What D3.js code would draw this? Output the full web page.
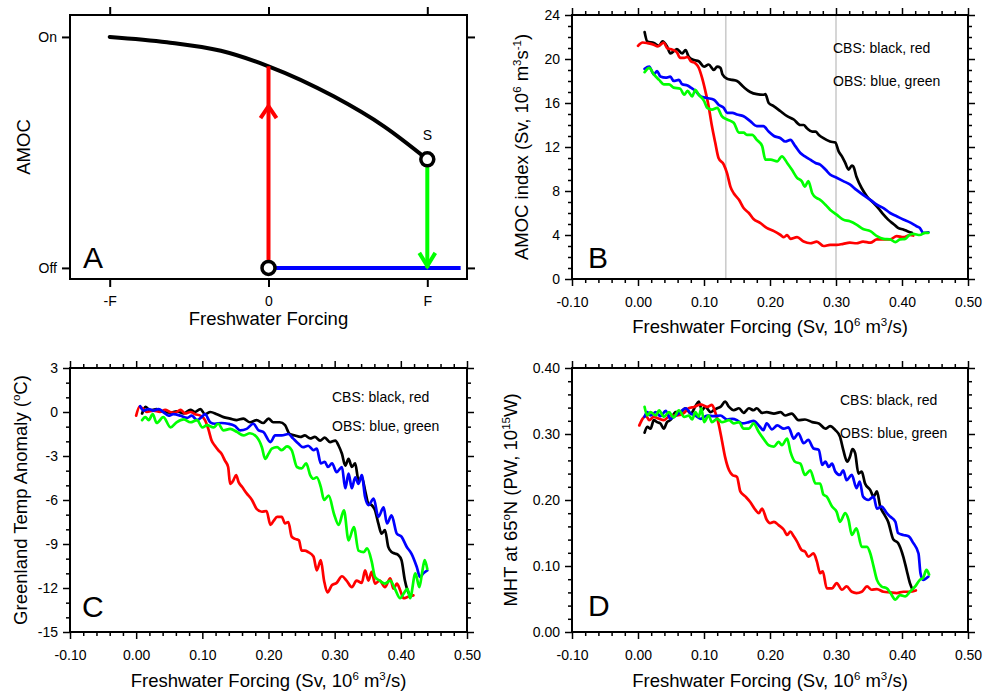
<!DOCTYPE html>
<html>
<head>
<meta charset="utf-8">
<script src="https://cdn.jsdelivr.net/npm/d3@7"></script>
<style>
  body { margin: 0; background: #fff; }
  svg { display: block; font-family: "Liberation Sans", Arial, Helvetica, sans-serif; }
</style>
</head>
<body>
<div id="chart"></div>
<script>
// ---------- data ----------
// panel A (schematic, units of F and On/Off)
const aXTicks = [-1, 0, 1];
const aXLabels = ["-F", "0", "F"];
const aYTicks = [0, 1];
const aYLabels = ["Off", "On"];
const aCurve = [[-1, 1], [-0.64, 0.977], [-0.3, 0.94], [0, 0.873], [0.41, 0.743], [0.727, 0.613], [1, 0.47]];
const aRed = [[0, 0], [0, 0.873]];
const aGreen = [[1, 0.47], [1, 0]];
const aBlue = [[0, 0], [1.21, 0]];
const aCircles = [[0, 0], [1, 0.47]];

// shared x ticks for B-D
const xMajor = [-0.1, 0, 0.1, 0.2, 0.3, 0.4, 0.5];

// panel B: AMOC index
const bTicks = [0, 4, 8, 12, 16, 20, 24];
const bGrey = [0.133, 0.30];
const bBlack = [[0.010,22.45],[0.014,21.6],[0.024,21.45],[0.032,21.2],[0.037,21.6],[0.044,21.15],[0.049,20.5],[0.059,20.9],[0.067,20.5],[0.072,20.8],[0.077,20.2],[0.085,19.9],[0.092,19.8],[0.100,19.3],[0.107,19.5],[0.115,19.0],[0.120,19.3],[0.125,19.2],[0.128,18.6],[0.135,18.2],[0.143,18.1],[0.150,18.0],[0.160,17.45],[0.170,17.0],[0.180,16.8],[0.190,16.75],[0.193,16.8],[0.198,16.0],[0.206,15.7],[0.216,15.25],[0.226,14.8],[0.236,14.5],[0.246,14.0],[0.251,14.0],[0.256,13.7],[0.264,13.4],[0.269,13.4],[0.274,13.1],[0.281,12.8],[0.291,12.5],[0.299,12.4],[0.304,11.6],[0.309,11.15],[0.314,10.55],[0.319,9.95],[0.324,10.3],[0.326,10.25],[0.331,9.3],[0.339,8.25],[0.347,7.5],[0.357,6.9],[0.364,6.45],[0.372,5.85],[0.379,5.4],[0.387,5.0],[0.394,4.65],[0.402,4.5],[0.410,4.3],[0.415,4.2]];
const bRed = [[0.000,21.2],[0.007,21.5],[0.014,21.45],[0.024,21.3],[0.029,21.15],[0.034,21.3],[0.039,21.5],[0.044,21.0],[0.052,20.85],[0.059,20.6],[0.064,20.1],[0.070,20.1],[0.075,20.2],[0.080,19.8],[0.087,19.6],[0.092,19.2],[0.097,18.3],[0.102,17.1],[0.107,15.7],[0.112,13.9],[0.117,12.4],[0.122,11.0],[0.130,10.4],[0.135,9.6],[0.140,8.4],[0.145,7.8],[0.153,7.2],[0.160,6.45],[0.168,6.0],[0.175,5.45],[0.185,5.1],[0.195,4.65],[0.206,4.35],[0.216,4.0],[0.221,3.8],[0.226,4.0],[0.231,3.65],[0.241,3.8],[0.251,3.4],[0.261,3.25],[0.271,3.4],[0.281,3.0],[0.291,3.1],[0.301,3.1],[0.311,3.2],[0.321,3.3],[0.331,3.25],[0.341,3.4],[0.352,3.3],[0.362,3.6],[0.372,3.6],[0.382,3.6],[0.392,3.9],[0.402,3.8],[0.412,4.0],[0.417,3.95]];
const bBlue = [[0.010,19.1],[0.017,19.3],[0.024,18.6],[0.029,18.9],[0.034,18.4],[0.042,18.3],[0.049,18.4],[0.054,18.0],[0.062,18.1],[0.067,17.7],[0.075,17.6],[0.080,17.4],[0.087,17.1],[0.095,16.6],[0.105,16.45],[0.115,16.3],[0.122,15.85],[0.130,15.55],[0.135,15.1],[0.143,15.1],[0.150,14.95],[0.160,14.8],[0.170,14.35],[0.180,13.9],[0.190,13.9],[0.198,13.4],[0.206,13.0],[0.216,12.8],[0.223,12.5],[0.231,12.65],[0.238,12.1],[0.246,11.45],[0.253,11.15],[0.261,10.85],[0.269,10.55],[0.276,10.4],[0.284,9.95],[0.291,9.5],[0.301,9.2],[0.311,8.9],[0.321,8.6],[0.331,8.1],[0.341,7.65],[0.352,7.2],[0.362,6.75],[0.372,6.45],[0.382,6.0],[0.392,5.7],[0.402,5.4],[0.412,5.15],[0.422,4.8],[0.427,4.65],[0.432,4.2],[0.440,4.25]];
const bGreen = [[0.010,18.8],[0.017,19.2],[0.024,18.6],[0.032,18.1],[0.039,17.7],[0.047,17.7],[0.054,17.4],[0.064,17.3],[0.070,16.75],[0.075,17.1],[0.082,16.6],[0.087,17.2],[0.092,16.75],[0.100,16.2],[0.105,15.55],[0.112,15.4],[0.120,15.55],[0.127,14.8],[0.135,14.5],[0.145,14.2],[0.153,13.3],[0.160,13.3],[0.165,13.1],[0.173,13.1],[0.180,12.65],[0.188,12.1],[0.193,10.85],[0.201,10.85],[0.211,10.7],[0.218,11.15],[0.226,10.55],[0.233,9.95],[0.241,9.2],[0.248,8.9],[0.253,8.4],[0.258,8.9],[0.264,7.8],[0.271,7.35],[0.276,7.2],[0.284,6.75],[0.291,6.3],[0.301,5.85],[0.311,5.4],[0.321,5.25],[0.331,4.95],[0.341,4.55],[0.352,4.35],[0.362,3.9],[0.372,3.65],[0.382,3.6],[0.390,3.35],[0.397,3.6],[0.405,3.65],[0.410,3.95],[0.417,4.1],[0.427,4.0],[0.435,4.2],[0.440,4.2]];

// panel C: Greenland temperature anomaly
const cTicks = [-15, -12, -9, -6, -3, 0, 3];
const cBlack = [[0.009,-0.1],[0.014,0.35],[0.021,0.1],[0.031,0.2],[0.041,0],[0.052,-0.05],[0.061,0.05],[0.072,-0.1],[0.082,0.15],[0.089,0],[0.097,0.2],[0.104,-0.15],[0.112,0],[0.122,-0.15],[0.132,-0.35],[0.142,-0.45],[0.152,-0.55],[0.162,-0.45],[0.172,-0.7],[0.182,-0.55],[0.192,-0.75],[0.200,-0.45],[0.207,-0.7],[0.217,-0.7],[0.225,-0.9],[0.232,-1.5],[0.240,-1.6],[0.248,-1.7],[0.255,-1.6],[0.263,-1.8],[0.270,-1.7],[0.278,-1.95],[0.285,-1.75],[0.293,-2.05],[0.301,-1.95],[0.306,-2.3],[0.311,-2.85],[0.316,-3.65],[0.321,-3.2],[0.326,-3.75],[0.331,-3.5],[0.336,-4.65],[0.341,-4.45],[0.346,-5.35],[0.351,-6.25],[0.356,-6.35],[0.361,-6.7],[0.366,-7.6],[0.371,-8.3],[0.376,-8.05],[0.381,-9.2],[0.386,-9.55],[0.391,-9.65],[0.396,-9.75],[0.401,-10.1],[0.406,-11.45],[0.410,-12.15],[0.414,-12.5]];
const cRed = [[0.000,-0.25],[0.005,0.35],[0.010,0.25],[0.016,0],[0.026,0.1],[0.036,0],[0.044,0.15],[0.051,0],[0.059,-0.05],[0.067,0.15],[0.074,-0.1],[0.082,0],[0.089,-0.15],[0.097,-0.25],[0.104,-0.55],[0.109,-1.15],[0.114,-1.95],[0.119,-2.3],[0.124,-2.6],[0.129,-2.85],[0.134,-3.3],[0.139,-3.75],[0.142,-4.9],[0.147,-4.65],[0.151,-4.3],[0.155,-4.8],[0.160,-5.1],[0.167,-5.55],[0.175,-6.0],[0.182,-6.6],[0.190,-6.8],[0.197,-6.75],[0.203,-7.7],[0.208,-7.4],[0.213,-7.15],[0.220,-7.15],[0.225,-7.6],[0.230,-7.5],[0.235,-8.5],[0.240,-8.65],[0.246,-8.75],[0.250,-9.45],[0.255,-9.45],[0.260,-9.55],[0.268,-9.85],[0.273,-10.8],[0.279,-10.1],[0.284,-11.5],[0.289,-12.3],[0.296,-11.8],[0.303,-11.65],[0.311,-11.2],[0.318,-11.5],[0.326,-11.95],[0.333,-11.5],[0.341,-11.65],[0.346,-10.8],[0.351,-11.5],[0.356,-10.9],[0.361,-11.7],[0.368,-11.5],[0.376,-11.95],[0.384,-11.35],[0.389,-12.05],[0.394,-11.7],[0.399,-12.15],[0.404,-12.7],[0.411,-12.6],[0.419,-12.5]];
const cBlue = [[0.006,0.4],[0.011,0.1],[0.019,0.2],[0.026,0.1],[0.034,0.2],[0.041,0],[0.049,-0.25],[0.056,-0.15],[0.067,-0.25],[0.077,-0.4],[0.084,-0.25],[0.092,-0.55],[0.100,-0.3],[0.104,-0.15],[0.112,-0.7],[0.119,-0.8],[0.129,-0.75],[0.139,-0.8],[0.149,-0.95],[0.157,-1.25],[0.167,-1.15],[0.177,-0.8],[0.185,-1.25],[0.192,-1.35],[0.203,-2.05],[0.210,-1.6],[0.220,-1.6],[0.230,-1.5],[0.237,-1.8],[0.245,-2.15],[0.252,-2.4],[0.260,-2.3],[0.268,-2.6],[0.273,-2.5],[0.279,-3.5],[0.285,-3.4],[0.290,-3.75],[0.296,-3.5],[0.303,-4.1],[0.311,-3.75],[0.316,-5.2],[0.321,-4.2],[0.326,-5.2],[0.331,-4.45],[0.336,-4.9],[0.341,-4.3],[0.346,-5.8],[0.351,-6.35],[0.359,-5.9],[0.366,-7.15],[0.374,-6.5],[0.379,-7.6],[0.386,-7.05],[0.394,-8.3],[0.401,-8.5],[0.409,-9.2],[0.416,-9.65],[0.424,-10.55],[0.429,-11.25],[0.434,-11.0],[0.440,-10.8]];
const cGreen = [[0.009,-0.55],[0.014,-0.35],[0.019,-0.55],[0.025,-0.15],[0.031,-0.75],[0.041,-0.35],[0.052,-1.05],[0.061,-0.7],[0.072,-0.5],[0.082,-0.7],[0.092,-0.55],[0.100,-1.05],[0.107,-0.9],[0.117,-1.05],[0.124,-0.8],[0.132,-1.25],[0.142,-1.15],[0.152,-1.35],[0.162,-1.6],[0.172,-1.45],[0.182,-1.7],[0.190,-2.4],[0.195,-3.2],[0.200,-2.85],[0.205,-2.5],[0.213,-2.4],[0.220,-2.6],[0.228,-2.35],[0.235,-2.6],[0.243,-3.75],[0.250,-3.85],[0.257,-3.5],[0.263,-4.3],[0.268,-4.55],[0.273,-4.45],[0.279,-5.1],[0.284,-6.0],[0.291,-5.7],[0.299,-6.95],[0.306,-7.7],[0.314,-6.7],[0.321,-8.75],[0.329,-7.85],[0.336,-9.45],[0.344,-9.55],[0.349,-9.3],[0.356,-10.2],[0.361,-11.25],[0.368,-11.5],[0.376,-11.7],[0.384,-11.5],[0.391,-12.05],[0.399,-12.7],[0.404,-12.4],[0.410,-12.05],[0.414,-12.7],[0.422,-11.0],[0.428,-11.95],[0.432,-11.0],[0.436,-10.1],[0.440,-10.7]];

// panel D: meridional heat transport at 65N
const dTicks = [0, 0.1, 0.2, 0.3, 0.4];
const dBlack = [[0.010,0.302],[0.014,0.311],[0.019,0.308],[0.024,0.321],[0.029,0.318],[0.034,0.316],[0.039,0.308],[0.044,0.318],[0.049,0.321],[0.057,0.333],[0.064,0.333],[0.072,0.339],[0.080,0.331],[0.087,0.342],[0.092,0.349],[0.097,0.336],[0.102,0.341],[0.110,0.333],[0.115,0.336],[0.120,0.339],[0.125,0.341],[0.132,0.349],[0.138,0.341],[0.145,0.336],[0.153,0.339],[0.160,0.332],[0.168,0.339],[0.175,0.336],[0.180,0.339],[0.188,0.332],[0.195,0.333],[0.206,0.331],[0.216,0.333],[0.223,0.328],[0.233,0.331],[0.243,0.321],[0.253,0.322],[0.264,0.318],[0.274,0.316],[0.284,0.308],[0.291,0.312],[0.299,0.306],[0.306,0.296],[0.311,0.276],[0.317,0.258],[0.321,0.265],[0.325,0.277],[0.329,0.271],[0.334,0.240],[0.339,0.243],[0.344,0.225],[0.352,0.215],[0.357,0.205],[0.362,0.213],[0.367,0.19],[0.372,0.18],[0.379,0.167],[0.387,0.14],[0.394,0.135],[0.402,0.114],[0.407,0.094],[0.412,0.074],[0.416,0.064]];
const dRed = [[0.002,0.313],[0.007,0.323],[0.012,0.328],[0.017,0.321],[0.024,0.326],[0.032,0.323],[0.039,0.321],[0.049,0.328],[0.059,0.328],[0.070,0.332],[0.077,0.339],[0.085,0.341],[0.095,0.345],[0.105,0.341],[0.112,0.344],[0.117,0.333],[0.122,0.316],[0.127,0.291],[0.132,0.265],[0.138,0.245],[0.143,0.238],[0.150,0.235],[0.155,0.213],[0.163,0.205],[0.170,0.197],[0.178,0.185],[0.183,0.18],[0.188,0.187],[0.195,0.17],[0.200,0.165],[0.206,0.167],[0.213,0.162],[0.221,0.155],[0.226,0.147],[0.231,0.152],[0.236,0.145],[0.241,0.137],[0.248,0.124],[0.253,0.122],[0.258,0.114],[0.266,0.119],[0.271,0.107],[0.276,0.089],[0.280,0.092],[0.286,0.066],[0.294,0.066],[0.301,0.074],[0.309,0.064],[0.316,0.069],[0.324,0.061],[0.331,0.059],[0.339,0.061],[0.347,0.069],[0.354,0.064],[0.362,0.065],[0.372,0.061],[0.382,0.06],[0.392,0.059],[0.402,0.061],[0.412,0.061],[0.421,0.063]];
const dBlue = [[0.010,0.326],[0.014,0.333],[0.019,0.328],[0.027,0.333],[0.034,0.327],[0.042,0.335],[0.049,0.323],[0.057,0.328],[0.064,0.333],[0.072,0.339],[0.080,0.331],[0.087,0.328],[0.095,0.323],[0.105,0.328],[0.115,0.327],[0.125,0.328],[0.135,0.322],[0.143,0.323],[0.150,0.321],[0.158,0.316],[0.168,0.318],[0.175,0.32],[0.183,0.313],[0.190,0.306],[0.195,0.316],[0.203,0.307],[0.211,0.313],[0.221,0.308],[0.228,0.31],[0.236,0.293],[0.243,0.301],[0.251,0.286],[0.258,0.291],[0.266,0.278],[0.274,0.276],[0.279,0.253],[0.284,0.258],[0.289,0.25],[0.294,0.255],[0.299,0.243],[0.306,0.238],[0.311,0.245],[0.316,0.23],[0.324,0.238],[0.331,0.218],[0.336,0.228],[0.341,0.205],[0.349,0.2],[0.357,0.205],[0.362,0.187],[0.369,0.19],[0.377,0.18],[0.382,0.175],[0.390,0.167],[0.394,0.15],[0.402,0.147],[0.410,0.145],[0.417,0.135],[0.425,0.119],[0.428,0.089],[0.432,0.079],[0.440,0.084]];
const dGreen = [[0.010,0.341],[0.014,0.328],[0.019,0.333],[0.027,0.328],[0.032,0.336],[0.039,0.326],[0.047,0.333],[0.054,0.325],[0.062,0.336],[0.070,0.326],[0.077,0.328],[0.082,0.322],[0.087,0.333],[0.092,0.326],[0.096,0.339],[0.100,0.318],[0.107,0.328],[0.112,0.318],[0.120,0.323],[0.127,0.318],[0.138,0.321],[0.145,0.316],[0.153,0.318],[0.160,0.308],[0.168,0.308],[0.175,0.316],[0.183,0.303],[0.190,0.293],[0.198,0.283],[0.206,0.281],[0.213,0.288],[0.218,0.283],[0.226,0.293],[0.231,0.273],[0.238,0.258],[0.246,0.255],[0.253,0.238],[0.261,0.245],[0.269,0.225],[0.276,0.225],[0.281,0.208],[0.286,0.205],[0.294,0.19],[0.301,0.182],[0.306,0.167],[0.314,0.18],[0.319,0.17],[0.324,0.147],[0.331,0.157],[0.339,0.129],[0.347,0.129],[0.352,0.119],[0.357,0.099],[0.362,0.079],[0.369,0.069],[0.377,0.066],[0.382,0.06],[0.390,0.049],[0.397,0.056],[0.405,0.054],[0.412,0.061],[0.420,0.069],[0.427,0.079],[0.432,0.082],[0.437,0.094],[0.441,0.087]];

// ---------- drawing ----------
const width = 984, height = 695;
const svg = d3.select("#chart").append("svg")
    .attr("width", width)
    .attr("height", height);

const colors = {black: "#000000", red: "#ff0000", blue: "#0000ff", green: "#00ff00"};

function makePanel(box, xDomain, yDomain) {
    let p = {};
    p.w = box.x1 - box.x0;
    p.h = box.y1 - box.y0;
    p.g = svg.append("g").attr("transform", `translate(${box.x0},${box.y0})`);
    p.x = d3.scaleLinear().domain(xDomain).range([0, p.w]);
    p.y = d3.scaleLinear().domain(yDomain).range([p.h, 0]);
    return p;
}

function addAxis(p, axisFn, scale, transform, values, size, fmt, padding) {
    let ax = axisFn(scale).tickValues(values).tickSize(size).tickSizeOuter(0)
        .tickPadding(padding).tickFormat(fmt);
    let g = p.g.append("g").attr("transform", transform).call(ax);
    g.select(".domain").remove();
    g.selectAll(".tick line").attr("stroke", "#000").attr("stroke-width", 1.5);
    g.selectAll("text").attr("fill", "#000").style("font-size", "14px")
        .style("font-family", '"Liberation Sans", Arial, sans-serif');
    return g;
}

function boxAxes(p, yMajor, yMinorStep, yFmt) {
    let xMinor = d3.range(-0.1, 0.5001, 0.02).filter(v => Math.abs(v * 10 - Math.round(v * 10)) > 1e-6);
    let yd = p.y.domain();
    let yMinor = d3.range(yd[0], yd[1] + 1e-9, yMinorStep).filter(v => !yMajor.some(m => Math.abs(m - v) < 1e-9));
    let none = () => "";
    let xf = d => d.toFixed(2);
    // bottom, top
    addAxis(p, d3.axisBottom, p.x, `translate(0,${p.h})`, xMajor, 7, xf, 11);
    addAxis(p, d3.axisBottom, p.x, `translate(0,${p.h})`, xMinor, 4, none, 0);
    addAxis(p, d3.axisTop, p.x, "translate(0,0)", xMajor, 7, none, 0);
    addAxis(p, d3.axisTop, p.x, "translate(0,0)", xMinor, 4, none, 0);
    // left, right
    addAxis(p, d3.axisLeft, p.y, "translate(0,0)", yMajor, 7, yFmt, 5);
    addAxis(p, d3.axisLeft, p.y, "translate(0,0)", yMinor, 4, none, 0);
    addAxis(p, d3.axisRight, p.y, `translate(${p.w},0)`, yMajor, 7, none, 0);
    addAxis(p, d3.axisRight, p.y, `translate(${p.w},0)`, yMinor, 4, none, 0);
}

// text with superscripts; parts = [[text, isSup], ...]
function richText(sel, parts, size) {
    let shift = Math.round(size * 0.4);
    let up = false;
    parts.forEach(([t, sup]) => {
        let ts = sel.append("tspan").text(t);
        if (sup && !up) { ts.attr("dy", -shift); up = true; }
        else if (!sup && up) { ts.attr("dy", shift); up = false; }
        if (sup) ts.style("font-size", (size * 0.62) + "px");
    });
}

function yTitle(p, parts, baseX, size) {
    let t = p.g.append("text")
        .attr("transform", "rotate(-90)")
        .attr("x", -p.h / 2)
        .attr("y", baseX)
        .attr("text-anchor", "middle")
        .style("font-size", size + "px");
    richText(t, parts, size);
}

function xTitle(p, parts, dy, size) {
    let t = p.g.append("text")
        .attr("x", p.w / 2)
        .attr("y", p.h + dy)
        .attr("text-anchor", "middle")
        .style("font-size", size + "px");
    richText(t, parts, size);
}

function panelLetter(p, letter, dx, dyFromBottom) {
    p.g.append("text").attr("x", dx).attr("y", p.h - dyFromBottom)
        .style("font-size", "30px").text(letter);
}

function legendText(p, dx, y1, y2) {
    p.g.append("text").attr("x", dx).attr("y", y1).style("font-size", "14px").text("CBS: black, red");
    p.g.append("text").attr("x", dx).attr("y", y2).style("font-size", "14px").text("OBS: blue, green");
}

function drawSeries(p, series) {
    let line = d3.line().x(d => p.x(d[0])).y(d => p.y(d[1])).curve(d3.curveMonotoneX);
    series.forEach(([data, col]) => {
        p.g.append("path").datum(data)
            .attr("d", line)
            .attr("fill", "none")
            .attr("stroke", colors[col])
            .attr("stroke-width", 2.7)
            .attr("stroke-linejoin", "round")
            .attr("stroke-linecap", "round");
    });
}

function frame(p) {
    p.g.append("rect").attr("width", p.w).attr("height", p.h)
        .attr("fill", "none").attr("stroke", "#000").attr("stroke-width", 2);
}

const fwTitle = [["Freshwater Forcing (Sv, 10"], ["6", true], [" m"], ["3", true], ["/s)"]];

// ---------- panel A ----------
const pA = makePanel({x0: 70, x1: 467, y0: 15, y1: 279}, [-1.25, 1.25], [-0.048, 1.095]);
{
    let none = () => "";
    addAxis(pA, d3.axisBottom, pA.x, `translate(0,${pA.h})`, aXTicks, 8, (d, i) => aXLabels[i], 9);
    addAxis(pA, d3.axisTop, pA.x, "translate(0,0)", aXTicks, 8, none, 0);
    addAxis(pA, d3.axisLeft, pA.y, "translate(0,0)", aYTicks, 8, (d, i) => aYLabels[i], 5);
    addAxis(pA, d3.axisRight, pA.y, `translate(${pA.w},0)`, aYTicks, 8, none, 0);
    pA.g.selectAll(".tick line").attr("stroke-width", 2);

    let line = d3.line().x(d => pA.x(d[0])).y(d => pA.y(d[1]));
    pA.g.append("path").datum(aCurve)
        .attr("d", line.curve(d3.curveMonotoneX))
        .attr("fill", "none").attr("stroke", "#000").attr("stroke-width", 4).attr("stroke-linecap", "round");
    let straight = d3.line().x(d => pA.x(d[0])).y(d => pA.y(d[1]));
    [[aBlue, "blue"], [aRed, "red"], [aGreen, "green"]].forEach(([d, c]) => {
        pA.g.append("path").datum(d).attr("d", straight)
            .attr("fill", "none").attr("stroke", colors[c]).attr("stroke-width", 4);
    });
    // arrow heads (open chevrons)
    let rx = pA.x(0), ry = pA.y(0.70);
    pA.g.append("path").attr("d", `M${rx - 8},${ry + 12}L${rx},${ry}L${rx + 8},${ry + 12}`)
        .attr("fill", "none").attr("stroke", colors.red).attr("stroke-width", 4);
    let gx = pA.x(1), gy = pA.y(0) - 2;
    pA.g.append("path").attr("d", `M${gx - 8},${gy - 13}L${gx},${gy}L${gx + 8},${gy - 13}`)
        .attr("fill", "none").attr("stroke", colors.green).attr("stroke-width", 4);

    pA.g.selectAll(".state-circle").data(aCircles).enter().append("circle")
        .attr("class", "state-circle")
        .attr("cx", d => pA.x(d[0])).attr("cy", d => pA.y(d[1])).attr("r", 6.5)
        .attr("fill", "#fff").attr("stroke", "#000").attr("stroke-width", 3.5);
    pA.g.append("text").attr("x", pA.x(1)).attr("y", pA.y(0.47) - 19)
        .attr("text-anchor", "middle").style("font-size", "14px").text("S");

    frame(pA);
    panelLetter(pA, "A", 13, 11);
    yTitle(pA, [["AMOC"]], -40, 18.5);
    xTitle(pA, [["Freshwater Forcing"]], 46, 18.5);
}

// ---------- panel B ----------
const pB = makePanel({x0: 572, x1: 968, y0: 15, y1: 279}, [-0.1, 0.5], [0, 24]);
boxAxes(pB, bTicks, 1, d => String(d));
pB.g.selectAll(".grey").data(bGrey).enter().append("line")
    .attr("class", "grey")
    .attr("x1", d => pB.x(d)).attr("x2", d => pB.x(d))
    .attr("y1", 0).attr("y2", pB.h)
    .attr("stroke", "#cccccc").attr("stroke-width", 1.6);
drawSeries(pB, [[bBlack, "black"], [bRed, "red"], [bBlue, "blue"], [bGreen, "green"]]);
frame(pB);
panelLetter(pB, "B", 16, 11);
legendText(pB, 261, 38, 71);
yTitle(pB, [["AMOC index (Sv, 10"], ["6", true], [" m"], ["3", true], ["s"], ["-1", true], [")"]], -44, 18.5);
xTitle(pB, fwTitle, 54, 18.5);

// ---------- panel C ----------
const pC = makePanel({x0: 70, x1: 467, y0: 368, y1: 632}, [-0.1, 0.5], [-15, 3]);
boxAxes(pC, cTicks, 1, d => String(d));
drawSeries(pC, [[cBlack, "black"], [cRed, "red"], [cBlue, "blue"], [cGreen, "green"]]);
frame(pC);
panelLetter(pC, "C", 12, 15);
legendText(pC, 262, 34, 63);
yTitle(pC, [["Greenland Temp Anomaly ("], ["o", true], ["C)"]], -43, 18.5);
xTitle(pC, fwTitle, 55, 18.5);

// ---------- panel D ----------
const pD = makePanel({x0: 572, x1: 968, y0: 368, y1: 632}, [-0.1, 0.5], [0, 0.4]);
boxAxes(pD, dTicks, 0.02, d => d.toFixed(2));
drawSeries(pD, [[dBlack, "black"], [dRed, "red"], [dBlue, "blue"], [dGreen, "green"]]);
frame(pD);
panelLetter(pD, "D", 16, 16);
legendText(pD, 268, 37, 70);
yTitle(pD, [["MHT at 65"], ["o", true], ["N (PW, 10"], ["15", true], ["W)"]], -55, 18.5);
xTitle(pD, fwTitle, 55, 18.5);
</script>
</body>
</html>
